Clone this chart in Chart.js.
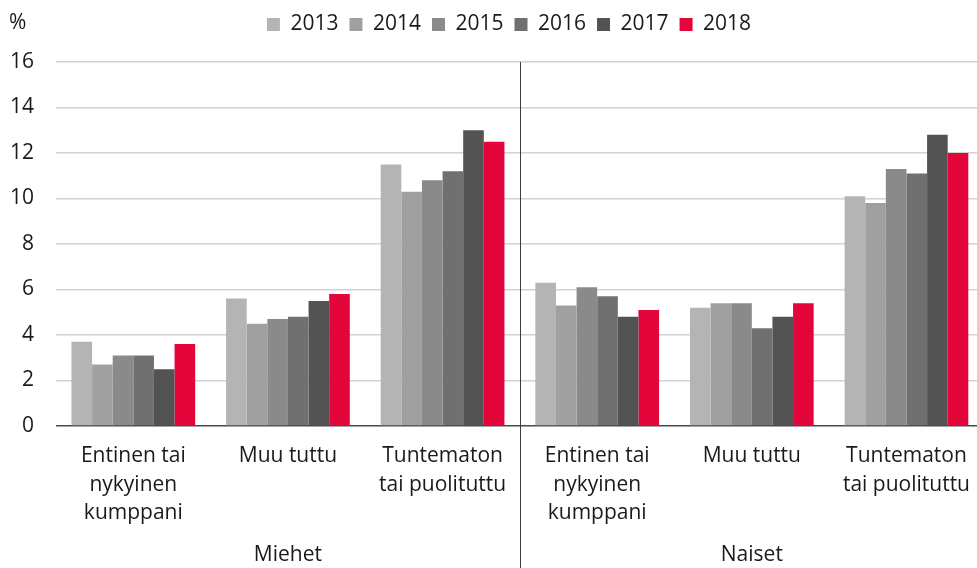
<!DOCTYPE html>
<html>
<head>
<meta charset="utf-8">
<script src="https://cdn.jsdelivr.net/npm/chart.js@4.4.1/dist/chart.umd.min.js"></script>
<style>
html,body{margin:0;padding:0;background:#fff;overflow:hidden;}
#wrap{position:relative;width:986px;height:568px;}
</style>
</head>
<body>
<div id="wrap"><canvas id="c" width="986" height="568"></canvas></div>
<script>
const categories = [
  ['Entinen tai','nykyinen','kumppani'],
  ['Muu tuttu'],
  ['Tuntematon','tai puolituttu'],
  ['Entinen tai','nykyinen','kumppani'],
  ['Muu tuttu'],
  ['Tuntematon','tai puolituttu']
];
const groupLabels = ['Miehet','Naiset'];
const years = ['2013','2014','2015','2016','2017','2018'];
const v2013 = [3.7, 5.6, 11.5, 6.3, 5.2, 10.1];
const v2014 = [2.7, 4.5, 10.3, 5.3, 5.4, 9.8];
const v2015 = [3.1, 4.7, 10.8, 6.1, 5.4, 11.3];
const v2016 = [3.1, 4.8, 11.2, 5.7, 4.3, 11.1];
const v2017 = [2.5, 5.5, 13.0, 4.8, 4.8, 12.8];
const v2018 = [3.6, 5.8, 12.5, 5.1, 5.4, 12.0];
const yTicks = [0, 2, 4, 6, 8, 10, 12, 14, 16];
const colors = ['#b4b4b4','#a0a0a0','#8a8a8a','#707070','#535353','#e4063b'];
const series = [v2013, v2014, v2015, v2016, v2017, v2018];

const FONT = "'Open Sans', sans-serif";
const FS = 21;
const TXT = '#1a1a1a';

const legendTweak = {
  id: 'legendTweak',
  beforeInit(chart) {
    const lg = chart.legend;
    const fit = lg.fit;
    lg.fit = function () { fit.call(this); this.height += 17; };
    const draw = lg.draw;
    lg.draw = function () { const L = this.left; this.left = L + 32; draw.call(this); this.left = L; };
  }
};

const extras = {
  id: 'extras',
  afterDraw(chart) {
    const ctx = chart.ctx;
    const x = chart.scales.x, a = chart.chartArea;
    const sep = (x.getPixelForValue(2) + x.getPixelForValue(3)) / 2;
    ctx.save();
    ctx.strokeStyle = '#3c3c3c';
    ctx.lineWidth = 1;
    ctx.beginPath();
    ctx.moveTo(Math.round(sep) + 0.5, a.top);
    ctx.lineTo(Math.round(sep) + 0.5, chart.height);
    ctx.stroke();
    ctx.fillStyle = TXT;
    ctx.font = FS + "px " + FONT;
    ctx.textAlign = 'center';
    ctx.textBaseline = 'middle';
    ctx.fillText(groupLabels[0], x.getPixelForValue(1), 555);
    ctx.fillText(groupLabels[1], x.getPixelForValue(4), 555);
    ctx.textAlign = 'left';
    ctx.fillText('%', 9, 23);
    ctx.restore();
  }
};

new Chart(document.getElementById('c'), {
  type: 'bar',
  data: {
    labels: categories,
    datasets: years.map((y, i) => ({
      label: y,
      data: series[i],
      backgroundColor: colors[i],
      borderWidth: 0,
      categoryPercentage: 0.8,
      barPercentage: 1.0
    }))
  },
  options: {
    responsive: false,
    animation: false,
    layout: { padding: { top: 3, right: 0, bottom: 0, left: 0 } },
    plugins: {
      tooltip: { enabled: false },
      legend: {
        position: 'top',
        align: 'center',
        labels: {
          boxWidth: 13, boxHeight: 13, padding: 11,
          color: TXT,
          font: { family: FONT, size: FS }
        }
      }
    },
    scales: {
      x: {
        grid: { display: false, drawTicks: false },
        border: { display: false },
        ticks: { color: TXT, font: { family: FONT, size: FS, lineHeight: 1.35 }, padding: 16, maxRotation: 0, autoSkip: false },
        afterFit(s) { s.height = 142; }
      },
      y: {
        min: 0, max: 16,
        afterBuildTicks(s) { s.ticks = yTicks.map(v => ({ value: v })); },
        grid: {
          color: c => c.tick && c.tick.value === 0 ? '#4a4a4a' : '#d2d2d2',
          lineWidth: 1.5,
          drawTicks: false
        },
        border: { display: false },
        ticks: { color: TXT, font: { family: FONT, size: FS }, padding: 22 },
        afterFit(s) { s.width = 56; }
      }
    }
  },
  plugins: [legendTweak, extras]
});
</script>
</body>
</html>
